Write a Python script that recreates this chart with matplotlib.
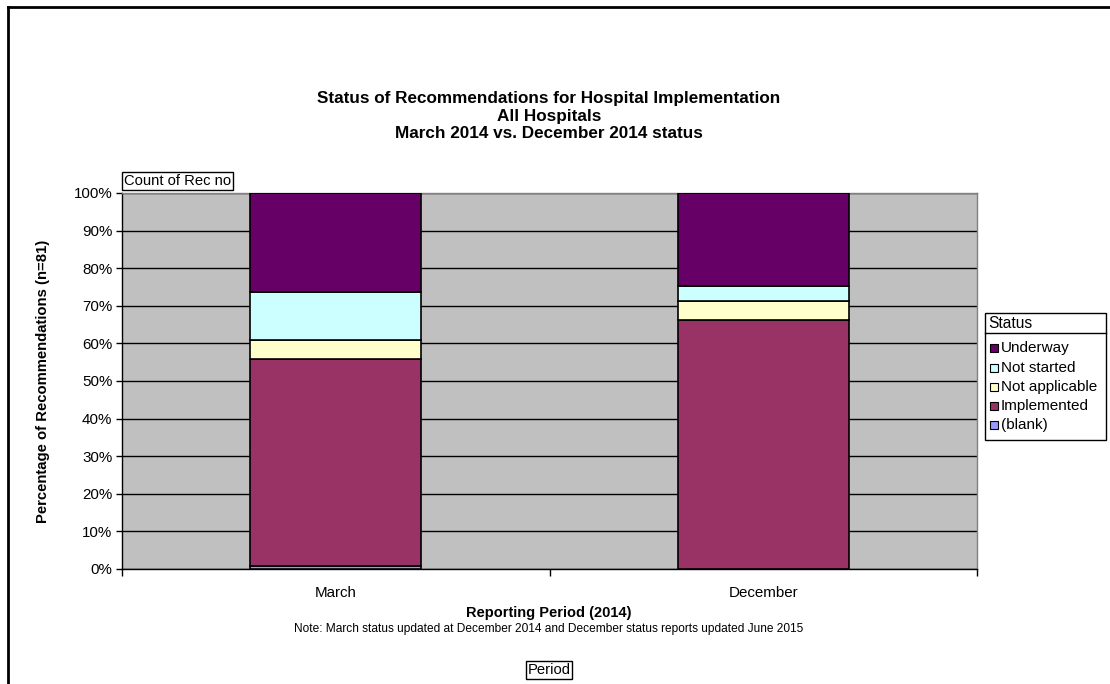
import matplotlib.pyplot as plt
from matplotlib.patches import Rectangle
from matplotlib.lines import Line2D

plt.rcParams['font.family'] = ['Liberation Sans', 'DejaVu Sans']

# data (percent of 81 recommendations)
periods = ["March", "December"]
statuses = ["(blank)", "Implemented", "Not applicable", "Not started", "Underway"]
blank = [0.8, 0.0]
implemented = [55.0, 66.1]
not_applicable = [5.2, 5.1]
not_started = [12.7, 4.1]
underway = [26.3, 24.7]
colors = ["#9999FF", "#993366", "#FFFFCC", "#CCFFFF", "#660066"]

W, H = 1110, 684


def px(x, y):
    return x / W, 1 - y / H


fig = plt.figure(figsize=(W / 100, H / 100), dpi=100)
ax = fig.add_axes([122 / W, 1 - 569 / H, (977 - 122) / W, (569 - 193) / H])
ax.set_facecolor("#C0C0C0")

series = [blank, implemented, not_applicable, not_started, underway]
bottom = [0.0, 0.0]
for vals, c in zip(series, colors):
    ax.bar(range(len(periods)), vals, bottom=bottom, width=0.4, color=c,
           edgecolor="black", linewidth=1.2, zorder=3)
    bottom = [b + v for b, v in zip(bottom, vals)]

ax.set_xlim(-0.5, 1.5)
ax.set_ylim(0, 100)
ax.set_yticks(range(0, 101, 10))
ax.set_yticklabels([f"{v}%" for v in range(0, 101, 10)], fontsize=10.9)
ax.yaxis.grid(True, color="black", linewidth=1, zorder=0)
ax.set_axisbelow(True)
ax.tick_params(axis="y", length=4, width=1, pad=3)
ax.set_xticks([0, 1])
ax.set_xticklabels(periods, fontsize=10.9)
ax.set_xticks([-0.5, 0.5, 1.5], minor=True)
ax.tick_params(axis="x", which="major", length=0, pad=12)
ax.tick_params(axis="x", which="minor", length=5, width=1)
for s in ax.spines.values():
    s.set_color("black")
    s.set_linewidth(1)
ax.spines["top"].set_color("#808080")
ax.spines["right"].set_color("#808080")

ax.set_ylabel("Percentage of Recommendations (n=81)", fontsize=10.7, fontweight="bold", labelpad=17)

# titles
fig.text(*px(549, 98), "Status of Recommendations for Hospital Implementation",
         ha="center", va="center", fontsize=12.3, fontweight="bold")
fig.text(*px(549, 116), "All Hospitals", ha="center", va="center", fontsize=12.3, fontweight="bold")
fig.text(*px(549, 134), "March 2014 vs. December 2014 status", ha="center", va="center",
         fontsize=12.3, fontweight="bold")

fig.text(*px(549, 613), "Reporting Period (2014)", ha="center", va="center", fontsize=10.5, fontweight="bold")
fig.text(*px(549, 629), "Note: March status updated at December 2014 and December status reports updated June 2015",
         ha="center", va="center", fontsize=8.6)

# field buttons
fig.text(*px(124, 181), "Count of Rec no", ha="left", va="center", fontsize=10.6,
         bbox=dict(boxstyle="square,pad=0.12", fc="white", ec="black", lw=1))
fig.text(*px(549, 670), "Period", ha="center", va="center", fontsize=10.6,
         bbox=dict(boxstyle="square,pad=0.12", fc="white", ec="black", lw=1))

# outer chart border (top and left visible)
fig.add_artist(Line2D([8 / W, 8 / W], [0, 1 - 7 / H], color="black", lw=2, transform=fig.transFigure))
fig.add_artist(Line2D([8 / W, 1], [1 - 7 / H, 1 - 7 / H], color="black", lw=2, transform=fig.transFigure))

# legend
lx0, ly0, lx1, ly1 = 985, 313, 1106, 440
x0, y0 = px(lx0, ly1)
fig.add_artist(Rectangle((x0, y0), (lx1 - lx0) / W, (ly1 - ly0) / H, transform=fig.transFigure,
                         fc="white", ec="black", lw=1))
fig.add_artist(Line2D([lx0 / W, lx1 / W], [1 - 333 / H, 1 - 333 / H], color="black", lw=1,
                      transform=fig.transFigure))
fig.text(*px(988, 324), "Status", ha="left", va="center", fontsize=11.2)
ys = [348, 368, 387, 406, 425]
for yy, name, c in zip(ys, statuses[::-1], colors[::-1]):
    sx, sy = px(990, yy + 4)
    fig.add_artist(Rectangle((sx, sy), 8 / W, 8 / H, transform=fig.transFigure, fc=c, ec="black", lw=0.8))
    fig.text(*px(1001, yy), name, ha="left", va="center", fontsize=11)

fig.savefig("out.png", dpi=100)
